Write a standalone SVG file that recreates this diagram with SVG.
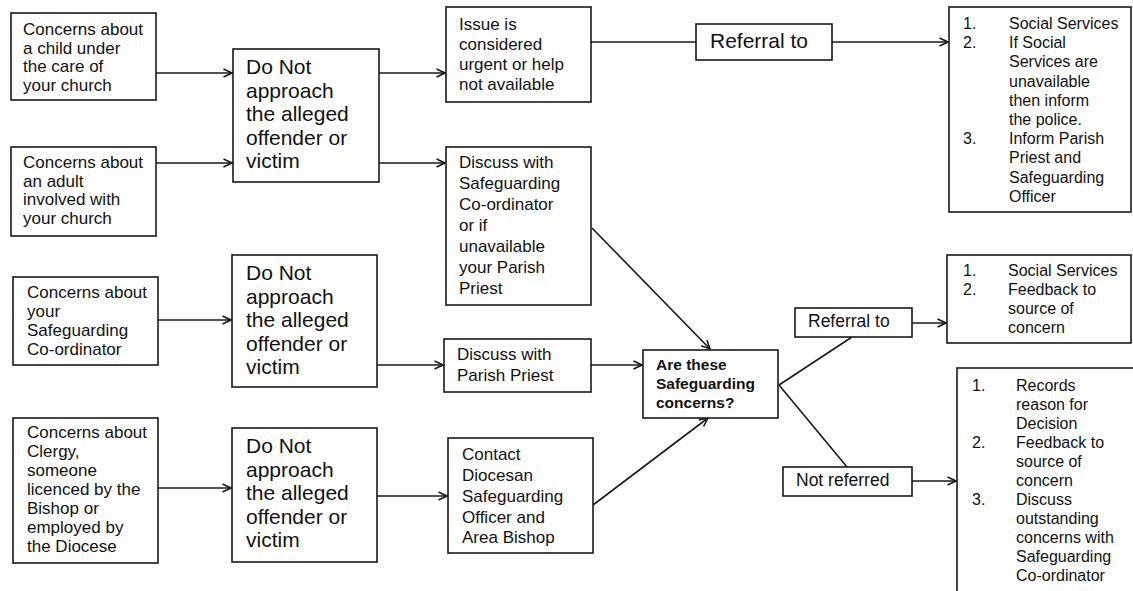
<svg xmlns="http://www.w3.org/2000/svg" width="1133" height="591" viewBox="0 0 1133 591">
<style>
.box{fill:#fff;stroke:#1a1a1a;stroke-width:1.6}
.t{font-family:"Liberation Sans",Arial,sans-serif;font-size:17px;fill:#111}
.b{font-family:"Liberation Sans",Arial,sans-serif;font-size:21px;fill:#111}
.s{font-family:"Liberation Sans",Arial,sans-serif;font-size:16px;fill:#111}
.m{font-family:"Liberation Sans",Arial,sans-serif;font-size:17.5px;fill:#111}
.q{font-family:"Liberation Sans",Arial,sans-serif;font-size:15.5px;font-weight:bold;fill:#111}
.ln{fill:none;stroke:#1a1a1a;stroke-width:1.6}
.ar{marker-end:url(#ah)}
</style>
<defs>
<marker id="ah" viewBox="0 0 10 10" refX="9.5" refY="5" markerWidth="10" markerHeight="10" markerUnits="userSpaceOnUse" orient="auto">
<path d="M1,1 L9.5,5 L1,9" fill="none" stroke="#1a1a1a" stroke-width="1.6"/>
</marker>
</defs>
<rect width="1133" height="591" fill="#fff"/>

<g id="connectors">
<line class="ln ar" x1="156" y1="73" x2="232" y2="73"/>
<line class="ln ar" x1="156" y1="163" x2="232" y2="163"/>
<path class="ln ar" d="M147,326 L157,320 L231,320"/>
<line class="ln ar" x1="158" y1="488" x2="231" y2="488"/>
<line class="ln ar" x1="379" y1="73" x2="445" y2="73"/>
<line class="ln ar" x1="379" y1="163" x2="445" y2="163"/>
<line class="ln ar" x1="377" y1="365" x2="443" y2="365"/>
<line class="ln ar" x1="377" y1="496" x2="447" y2="496"/>
<line class="ln" x1="591" y1="42" x2="696" y2="42"/>
<line class="ln ar" x1="832" y1="42" x2="948" y2="42"/>
<line class="ln ar" x1="592" y1="228" x2="710" y2="349"/>
<line class="ln ar" x1="591" y1="365" x2="642" y2="365"/>
<line class="ln ar" x1="593" y1="505" x2="708" y2="418"/>
<line class="ln" x1="779" y1="385" x2="852" y2="337"/>
<line class="ln" x1="779" y1="385" x2="847" y2="467"/>
<line class="ln ar" x1="912" y1="323" x2="946" y2="323"/>
<line class="ln ar" x1="912" y1="481" x2="956" y2="481"/>
</g>

<g id="n-child">
<rect class="box" x="11" y="13" width="145" height="87"/>
<text class="t" x="23" y="35">Concerns about</text>
<text class="t" x="23" y="53.5">a child under</text>
<text class="t" x="23" y="72">the care of</text>
<text class="t" x="23" y="90.5">your church</text>
</g>

<g id="n-adult">
<rect class="box" x="11" y="147" width="145" height="89"/>
<text class="t" x="23" y="168">Concerns about</text>
<text class="t" x="23" y="186.5">an adult</text>
<text class="t" x="23" y="205">involved with</text>
<text class="t" x="23" y="223.5">your church</text>
</g>

<g id="n-coord">
<rect class="box" x="13" y="277" width="145" height="88"/>
<text class="t" x="27" y="298">Concerns about</text>
<text class="t" x="27" y="317">your</text>
<text class="t" x="27" y="336">Safeguarding</text>
<text class="t" x="27" y="355">Co-ordinator</text>
</g>

<g id="n-clergy">
<rect class="box" x="13" y="418" width="145" height="145"/>
<text class="t" x="27" y="438">Concerns about</text>
<text class="t" x="27" y="457">Clergy,</text>
<text class="t" x="27" y="476">someone</text>
<text class="t" x="27" y="495">licenced by the</text>
<text class="t" x="27" y="514">Bishop or</text>
<text class="t" x="27" y="533">employed by</text>
<text class="t" x="27" y="552">the Diocese</text>
</g>

<g id="n-donot1">
<rect class="box" x="233" y="49" width="146" height="133"/>
<text class="b" x="246" y="74">Do Not</text>
<text class="b" x="246" y="97.5">approach</text>
<text class="b" x="246" y="121">the alleged</text>
<text class="b" x="246" y="144.5">offender or</text>
<text class="b" x="246" y="168">victim</text>
</g>

<g id="n-donot2">
<rect class="box" x="232" y="255" width="145" height="132"/>
<text class="b" x="246" y="280">Do Not</text>
<text class="b" x="246" y="303.5">approach</text>
<text class="b" x="246" y="327">the alleged</text>
<text class="b" x="246" y="350.5">offender or</text>
<text class="b" x="246" y="374">victim</text>
</g>

<g id="n-donot3">
<rect class="box" x="232" y="428" width="145" height="134"/>
<text class="b" x="246" y="453">Do Not</text>
<text class="b" x="246" y="476.5">approach</text>
<text class="b" x="246" y="500">the alleged</text>
<text class="b" x="246" y="523.5">offender or</text>
<text class="b" x="246" y="547">victim</text>
</g>

<g id="n-issue">
<rect class="box" x="446" y="7" width="145" height="95"/>
<text class="t" x="459" y="30">Issue is</text>
<text class="t" x="459" y="50">considered</text>
<text class="t" x="459" y="70">urgent or help</text>
<text class="t" x="459" y="90">not available</text>
</g>

<g id="n-discuss-coord">
<rect class="box" x="446" y="147" width="145" height="158"/>
<text class="t" x="459" y="168">Discuss with</text>
<text class="t" x="459" y="189">Safeguarding</text>
<text class="t" x="459" y="210">Co-ordinator</text>
<text class="t" x="459" y="231">or if</text>
<text class="t" x="459" y="252">unavailable</text>
<text class="t" x="459" y="273">your Parish</text>
<text class="t" x="459" y="294">Priest</text>
</g>

<g id="n-discuss-priest">
<rect class="box" x="444" y="339" width="147" height="53"/>
<text class="t" x="457" y="360">Discuss with</text>
<text class="t" x="457" y="381">Parish Priest</text>
</g>

<g id="n-contact">
<rect class="box" x="448" y="438" width="145" height="115"/>
<text class="t" x="462" y="460">Contact</text>
<text class="t" x="462" y="481">Diocesan</text>
<text class="t" x="462" y="502">Safeguarding</text>
<text class="t" x="462" y="523">Officer and</text>
<text class="t" x="462" y="543">Area Bishop</text>
</g>

<g id="n-question">
<rect class="box" x="643" y="350" width="135" height="68"/>
<text class="q" x="656" y="370">Are these</text>
<text class="q" x="656" y="389">Safeguarding</text>
<text class="q" x="656" y="408">concerns?</text>
</g>

<g id="n-referral1">
<rect class="box" x="696" y="24" width="136" height="36"/>
<text class="b" x="710" y="48">Referral to</text>
</g>

<g id="n-referral2">
<rect class="box" x="795" y="308" width="117" height="29"/>
<text class="m" x="808" y="327">Referral to</text>
</g>

<g id="n-notreferred">
<rect class="box" x="783" y="467" width="129" height="29"/>
<text class="m" x="796" y="486">Not referred</text>
</g>

<g id="n-out1">
<rect class="box" x="949" y="7" width="182" height="205"/>
<text class="s" x="963" y="29">1.</text><text class="s" x="1009" y="29">Social Services</text>
<text class="s" x="963" y="48.2">2.</text><text class="s" x="1009" y="48.2">If Social</text>
<text class="s" x="1009" y="67.4">Services are</text>
<text class="s" x="1009" y="86.6">unavailable</text>
<text class="s" x="1009" y="105.8">then inform</text>
<text class="s" x="1009" y="125">the police.</text>
<text class="s" x="963" y="144.2">3.</text><text class="s" x="1009" y="144.2">Inform Parish</text>
<text class="s" x="1009" y="163.4">Priest and</text>
<text class="s" x="1009" y="182.6">Safeguarding</text>
<text class="s" x="1009" y="201.8">Officer</text>
</g>

<g id="n-out2">
<rect class="box" x="947" y="255" width="184" height="88"/>
<text class="s" x="963" y="276">1.</text><text class="s" x="1008" y="276">Social Services</text>
<text class="s" x="963" y="295">2.</text><text class="s" x="1008" y="295">Feedback to</text>
<text class="s" x="1008" y="314">source of</text>
<text class="s" x="1008" y="333">concern</text>
</g>

<g id="n-out3">
<rect class="box" x="957" y="368" width="190" height="240"/>
<text class="s" x="972" y="391">1.</text><text class="s" x="1016" y="391">Records</text>
<text class="s" x="1016" y="410">reason for</text>
<text class="s" x="1016" y="429">Decision</text>
<text class="s" x="972" y="448">2.</text><text class="s" x="1016" y="448">Feedback to</text>
<text class="s" x="1016" y="467">source of</text>
<text class="s" x="1016" y="486">concern</text>
<text class="s" x="972" y="505">3.</text><text class="s" x="1016" y="505">Discuss</text>
<text class="s" x="1016" y="524">outstanding</text>
<text class="s" x="1016" y="543">concerns with</text>
<text class="s" x="1016" y="562">Safeguarding</text>
<text class="s" x="1016" y="581">Co-ordinator</text>
</g>
</svg>
